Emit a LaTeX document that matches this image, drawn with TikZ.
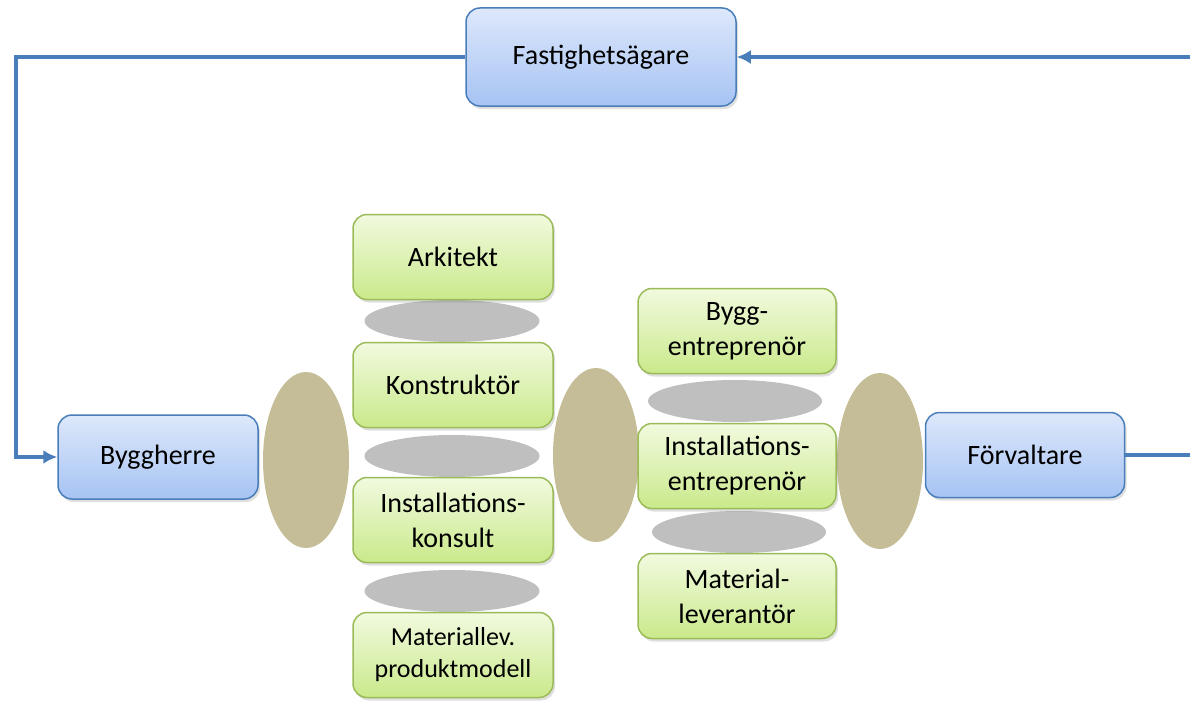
\documentclass[tikz,border=0pt]{standalone}
\usepackage{fontspec}
\setmainfont{Carlito}
\usepackage{tikz}
\usetikzlibrary{arrows.meta}
\usetikzlibrary{shapes.geometric}
\usetikzlibrary{shadows}
\definecolor{rolline}{HTML}{4A7EBB}
\definecolor{roltop}{HTML}{DDE8FB}
\definecolor{rolbot}{HTML}{A6C3F3}
\definecolor{aktline}{HTML}{9BBB59}
\definecolor{akttop}{HTML}{F1FADF}
\definecolor{aktbot}{HTML}{CAE98A}
\definecolor{gransfill}{HTML}{C4BD97}
\definecolor{grafill}{HTML}{BFBFBF}

\begin{document}
\begin{tikzpicture}[x=1pt,y=-1pt]
\tikzset{>={Latex[width=14pt,length=14pt]}}
\tikzstyle{roll} =[draw=rolline, line width=1.5pt, rounded corners=14pt, top color=roltop, bottom color=rolbot, minimum width=270pt, minimum height=98pt, inner sep=0pt, align=center, font=\fontsize{28}{34}\selectfont, drop shadow={opacity=0.25, shadow xshift=2pt, shadow yshift=-3pt}]
\tikzstyle{akt} =[draw=aktline, line width=1.5pt, rounded corners=14pt, top color=akttop, bottom color=aktbot, minimum width=200pt, minimum height=85pt, inner sep=0pt, align=center, font=\fontsize{28}{35}\selectfont, drop shadow={opacity=0.25, shadow xshift=2pt, shadow yshift=-3pt}]
\tikzstyle{grans} =[ellipse, fill=gransfill, minimum width=86pt, minimum height=176pt, inner sep=0pt]
\tikzstyle{lank} =[ellipse, fill=grafill, minimum width=175pt, minimum height=42pt, inner sep=0pt]
\tikzstyle{flow} =[draw=rolline, line width=3.5pt]

\useasboundingbox (0,0) rectangle (1190,701);

% roller
\node[roll](fast) at (601,57){Fastighetsägare};
\node[roll,minimum width=200pt,minimum height=84pt](bygg) at (158,457){Byggherre};
\node[roll,minimum width=199pt,minimum height=85pt](forv) at (1025,455){Förvaltare};

% gränser
\node[grans](g1) at (306,460){};
\node[grans,minimum height=174pt](g2) at (596,455){};
\node[grans](g3) at (880,461){};

% projektering
\node[lank](l1) at (452,321){};
\node[lank](l2) at (452,456){};
\node[lank](l3) at (452,591){};
\node[akt](ark) at (453,257){Arkitekt};
\node[akt](kon) at (453,385){Konstruktör};
\node[akt](ikon) at (453,520){Installations-\\konsult};
\node[akt,font=\fontsize{26}{32}\selectfont](mlev) at (453,655){Materiallev.\\produktmodell};

% produktion
\node[lank,minimum width=174pt](l4) at (735,401){};
\node[lank,minimum width=174pt](l5) at (739,532){};
\node[akt,minimum width=198pt](bent) at (737,331){Bygg-\\entreprenör};
\node[akt,minimum width=198pt](ient) at (737,466){Installations-\\entreprenör};
\node[akt,minimum width=198pt](mlev2) at (737,596){Material-\\leverantör};

% flöden
\coordinate (hit) at (1190,57);
\coordinate (ut) at (1190,455);
\draw [->,flow] (fast.west) -- (16,57) |- (bygg.west);
\draw [->,flow] (hit) -- (fast.east);
\draw [flow] (forv.east) -- (ut);
\end{tikzpicture}
\end{document}
